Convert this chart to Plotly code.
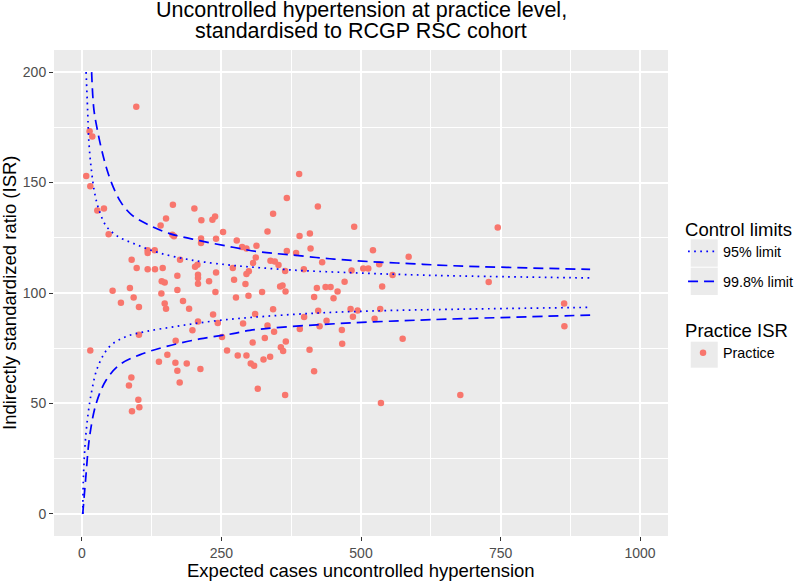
import plotly.graph_objects as go

# ---------------- data ----------------
practice_expected = [
    97.4, 13.8, 18.6, 7.8, 15.0, 163.0, 201.5, 39.5, 27.6, 238.6,
    233.8, 150.7, 214.0, 141.0, 252.9, 47.9, 162.0, 165.0, 213.4, 213.4,
    240.3, 277.4, 287.0, 294.8, 312.7, 117.8, 117.8, 130.4, 175.8, 89.1,
    311.5, 306.7, 98.1, 117.8, 130.9, 144.7, 202.7, 207.0, 270.3, 299.0,
    294.8, 240.3, 171.0, 208.0, 208.0, 227.8, 143.0, 148.3, 208.0, 272.6,
    293.0, 55.0, 86.0, 142.4, 171.0, 239.2, 276.0, 298.4, 92.7, 69.9,
    102.2, 148.3, 150.7, 181.1, 192.0, 235.0, 208.0, 243.4, 288.7, 310.3,
    198.0, 102.2, 168.0, 251.0, 306.0, 15.0, 260.0, 153.1, 138.0, 167.5,
    187.8, 279.2, 294.8, 302.5, 308.5, 171.0, 212.3, 88.6, 84.3, 175.2,
    315.0, 101.1, 102.9, 89.7, 389.2, 367.1, 422.7, 342.5, 487.8, 332.5,
    389.9, 408.4, 409.6, 367.1, 383.8, 521.4, 585.4, 337.8, 345.6, 352.2,
    430.4, 364.1, 397.6, 483.1, 504.0, 513.0, 532.6, 556.6, 322.8, 355.1,
    359.4, 364.8, 420.9, 436.5, 445.5, 458.0, 470.6, 537.9, 416.0, 450.8,
    342.5, 423.3, 481.3, 493.9, 534.4, 398.1, 485.5, 524.4, 332.5, 438.3,
    425.8, 390.4, 344.3, 465.7, 327.7, 365.3, 466.3, 574.6, 356.4, 360.5,
    407.8, 325.3, 337.2, 416.0, 364.1, 535.7, 745.0, 728.8, 863.9, 864.4,
    677.9,
]
practice_isr = [
    184.3, 173.2, 170.8, 153.0, 148.3, 140.0, 138.2, 138.2, 137.3, 134.6,
    133.2, 133.7, 132.9, 130.5, 127.6, 126.6, 126.4, 125.7, 124.7, 122.6,
    124.6, 123.8, 120.8, 120.1, 121.4, 119.3, 118.1, 119.3, 115.1, 115.1,
    116.1, 113.6, 111.3, 110.7, 110.7, 111.3, 111.9, 112.8, 111.3, 109.8,
    108.6, 109.3, 107.8, 108.3, 106.8, 105.3, 105.3, 104.8, 104.2, 106.0,
    104.1, 101.0, 102.3, 99.8, 101.4, 100.5, 98.0, 98.8, 98.0, 95.6,
    93.7, 95.2, 92.9, 96.4, 92.9, 90.3, 87.1, 86.4, 86.2, 90.5,
    83.1, 81.1, 78.4, 80.1, 77.6, 74.0, 74.0, 72.0, 68.9, 68.4,
    68.1, 71.7, 71.7, 68.1, 67.1, 64.8, 65.6, 61.8, 58.1, 59.5,
    56.6, 51.7, 48.3, 46.5, 153.9, 143.0, 139.1, 135.9, 130.0, 127.8,
    125.8, 126.9, 120.2, 119.0, 118.1, 119.3, 116.4, 114.6, 114.3, 112.7,
    113.9, 110.0, 110.7, 110.2, 111.1, 111.1, 113.0, 108.2, 100.5, 102.9,
    103.4, 100.7, 102.3, 102.7, 102.7, 100.7, 105.1, 102.9, 98.2, 97.6,
    92.6, 92.0, 92.8, 92.1, 92.8, 89.1, 89.3, 88.4, 85.3, 87.4,
    84.9, 83.7, 82.5, 83.2, 79.6, 78.1, 77.0, 79.3, 75.4, 73.7,
    74.3, 69.9, 71.1, 64.6, 53.8, 50.2, 129.6, 105.0, 95.3, 84.9,
    53.8,
]

# 95% control limit (dotted)
lim95_upper_x = [7.5, 10.2, 12.6, 16.9, 22.8, 30.5, 43.8, 64.6, 97.6, 139.3,
                 199.0, 259.0, 300.8, 390.4, 480.0, 569.7, 659.4, 910.5]
lim95_upper_y = [200.0, 183.0, 168.0, 155.9, 145.3, 137.7, 130.2, 125.6, 121.9, 118.1,
                 114.8, 112.8, 111.8, 110.2, 109.2, 108.4, 107.8, 106.8]
lim95_lower_x = [1.5, 3.0, 7.9, 16.9, 28.7, 49.7, 79.6, 115.5, 169.3, 229.0,
                 300.8, 420.4, 539.8, 659.4, 910.5]
lim95_lower_y = [0.0, 18.4, 38.1, 54.7, 66.7, 75.8, 80.3, 82.6, 84.9, 87.1,
                 88.9, 90.9, 92.0, 92.6, 93.5]

# 99.8% control limit (dashed)
lim998_upper_x = [17.4, 21.5, 27.6, 35.3, 44.8, 55.6, 70.6, 88.6, 115.5, 157.3,
                  211.0, 270.8, 318.7, 372.5, 444.2, 516.0, 587.7, 659.4, 761.0, 910.5]
lim998_upper_y = [200.0, 183.0, 174.0, 164.9, 155.9, 148.3, 140.8, 135.5, 131.3, 126.9,
                  123.7, 120.7, 118.6, 117.3, 115.5, 114.2, 113.3, 112.4, 111.6, 110.7]
lim998_lower_x = [1.5, 6.6, 13.8, 25.8, 43.8, 67.6, 103.5, 151.4, 211.0, 270.8,
                  300.8, 420.4, 539.8, 659.4, 910.5]
lim998_lower_y = [0.0, 15.4, 35.0, 50.2, 60.7, 67.5, 72.0, 75.8, 79.2, 81.6,
                  83.1, 85.6, 87.1, 88.2, 90.0]

x_tickvals = [0, 250, 500, 750, 1000]
y_tickvals = [0, 50, 100, 150, 200]

# ---------------- styling ----------------
FONT = "Liberation Sans, Arial, sans-serif"
BLUE = "#0000FF"
POINT = "#F8766D"
DOT = "1.7px,4.4px"
DASH = "10px,6px"

fig = go.Figure()

fig.add_trace(go.Scatter(
    x=practice_expected, y=practice_isr, mode="markers",
    marker=dict(color=POINT, size=6.5, line=dict(width=0)),
    name="Practice", legend="legend3", hoverinfo="x+y"))

fig.add_trace(go.Scatter(
    x=lim95_upper_x, y=lim95_upper_y, mode="lines",
    line=dict(color=BLUE, width=1.7, dash=DOT, shape="spline"),
    name="95% limit", legend="legend", legendgroup="l95"))
fig.add_trace(go.Scatter(
    x=lim95_lower_x, y=lim95_lower_y, mode="lines",
    line=dict(color=BLUE, width=1.7, dash=DOT, shape="spline"),
    name="95% limit", legend="legend", legendgroup="l95", showlegend=False))
fig.add_trace(go.Scatter(
    x=lim998_upper_x, y=lim998_upper_y, mode="lines",
    line=dict(color=BLUE, width=1.7, dash=DASH, shape="spline"),
    name="99.8% limit", legend="legend2", legendgroup="l998"))
fig.add_trace(go.Scatter(
    x=lim998_lower_x, y=lim998_lower_y, mode="lines",
    line=dict(color=BLUE, width=1.7, dash=DASH, shape="spline"),
    name="99.8% limit", legend="legend2", legendgroup="l998", showlegend=False))

axis_common = dict(
    showgrid=True, gridcolor="white", gridwidth=1.9,
    zeroline=False, showline=False,
    ticks="outside", ticklen=4, tickwidth=1.1, tickcolor="#333333",
    tickfont=dict(family=FONT, size=14, color="#4D4D4D"),
)

fig.update_xaxes(
    range=[-50, 1050], tickvals=x_tickvals,
    minor=dict(tickvals=[125, 375, 625, 875], showgrid=True, gridcolor="white", gridwidth=0.9, ticks=""),
    **axis_common)
fig.update_yaxes(
    range=[-10, 210], tickvals=y_tickvals,
    minor=dict(tickvals=[25, 75, 125, 175], showgrid=True, gridcolor="white", gridwidth=0.9, ticks=""),
    **axis_common)

annotations = [
    dict(text="Uncontrolled hypertension at practice level,", xref="paper", yref="paper",
         x=0.5, y=1, xanchor="center", yanchor="bottom", yshift=26, showarrow=False,
         font=dict(family=FONT, size=21.5, color="black")),
    dict(text="standardised to RCGP RSC cohort", xref="paper", yref="paper",
         x=0.5, y=1, xanchor="center", yanchor="bottom", yshift=5, showarrow=False,
         font=dict(family=FONT, size=21.5, color="black")),
    dict(text="Expected cases uncontrolled hypertension", xref="paper", yref="paper",
         x=0.5, y=0, xanchor="center", yanchor="top", yshift=-22, showarrow=False,
         font=dict(family=FONT, size=18.5, color="black")),
    dict(text="Indirectly standardized ratio (ISR)", xref="paper", yref="paper",
         x=0, y=0.5, xanchor="center", yanchor="middle", xshift=-45, textangle=-90,
         showarrow=False, font=dict(family=FONT, size=18.5, color="black")),
]

# grey legend key backgrounds (ggplot style)
key_boxes = [(0.6105, 0.5541), (0.5521, 0.4959), (0.3998, 0.3463)]
shapes = [
    dict(type="rect", xref="paper", yref="paper", x0=1.0370, x1=1.0810, y0=b, y1=t,
         fillcolor="#EBEBEB", line=dict(width=0), layer="above")
    for t, b in key_boxes
]

legend_common = dict(
    xanchor="left", yanchor="top", bgcolor="rgba(0,0,0,0)", borderwidth=0,
    font=dict(family=FONT, size=14.3, color="black"), itemwidth=30,
)

fig.update_layout(
    width=796, height=581,
    margin=dict(l=54, r=128, t=50, b=45, autoexpand=False),
    paper_bgcolor="white", plot_bgcolor="#EBEBEB",
    font=dict(family=FONT, color="black"),
    annotations=annotations,
    shapes=shapes,
    showlegend=True,
    legend=dict(x=1.0245, y=(536 - 211.5) / 486,
                title=dict(text="Control limits", font=dict(family=FONT, size=18.5, color="black")),
                **legend_common),
    legend2=dict(x=1.0245, y=(536 - 265.5) / 486, **legend_common),
    legend3=dict(x=1.0245, y=(536 - 313) / 486,
                 title=dict(text="Practice ISR", font=dict(family=FONT, size=18.5, color="black")),
                 **legend_common),
)

fig.write_html("out.html", post_script="document.body.style.margin='0';",
               config={"displayModeBar": False})
